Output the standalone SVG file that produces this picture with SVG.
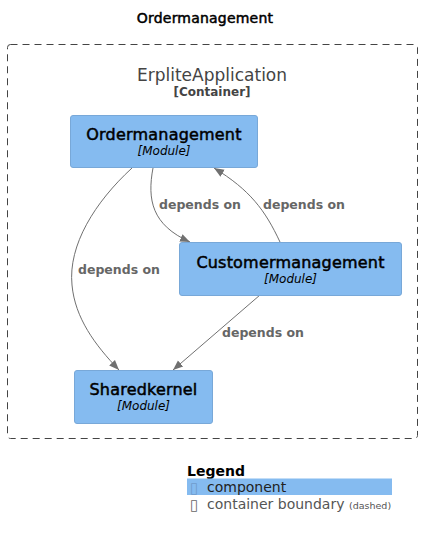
<svg xmlns="http://www.w3.org/2000/svg" width="422" height="537" viewBox="0 0 422 537">
<defs>
<style>
text{font-family:"DejaVu Sans","Liberation Sans",sans-serif}
.node rect{fill:#85BBF0;stroke:#78A8D8;stroke-width:1}
.nt{font-size:16px;fill:#000;stroke:#000;stroke-width:0.5px;letter-spacing:0.2px;text-anchor:middle}
.ns{font-size:12px;font-style:italic;fill:#000;text-anchor:middle}
.edge{fill:none;stroke:#707070;stroke-width:1}
.lbl{font-size:12.5px;font-weight:bold;fill:#666}
</style>
<marker id="arr" viewBox="0 0 10 10" refX="10" refY="5" markerWidth="10" markerHeight="10" markerUnits="userSpaceOnUse" orient="auto">
<path d="M0,1 L10,5 L0,9 z" fill="#707070"/>
</marker>
</defs>
<rect width="422" height="537" fill="#fff"/>
<text x="205" y="23" font-size="14" text-anchor="middle" fill="#000" stroke="#000" stroke-width="0.5" letter-spacing="0.2">Ordermanagement</text>
<g id="boundary">
<rect x="7.5" y="44.5" width="410" height="394" rx="3" fill="none" stroke="#444" stroke-width="1" stroke-dasharray="7,5"/>
<text x="212" y="81" font-size="17" text-anchor="middle" fill="#444">ErpliteApplication</text>
<text x="212" y="96" font-size="12" font-weight="bold" text-anchor="middle" fill="#444">[Container]</text>
</g>
<g id="connectors">
<path class="edge" d="M132,168 C95,202 68,245 72,285 C75,318 95,345 119,370" marker-end="url(#arr)"/>
<text class="lbl" x="78" y="274">depends on</text>
<path class="edge" d="M153,168 C147,200 152,225 190,242" marker-end="url(#arr)"/>
<text class="lbl" x="159" y="209">depends on</text>
<path class="edge" d="M280,242 C265,210 250,190 214,168" marker-end="url(#arr)"/>
<text class="lbl" x="263" y="209">depends on</text>
<path class="edge" d="M260,295 L173,370" marker-end="url(#arr)"/>
<text class="lbl" x="222" y="337">depends on</text>
</g>
<g id="ordermanagement" class="node">
<rect x="70.5" y="115.5" width="187" height="52" rx="2.5"/>
<text class="nt" x="164" y="140">Ordermanagement</text>
<text class="ns" x="164" y="155">[Module]</text>
</g>
<g id="customermanagement" class="node">
<rect x="179.5" y="242.5" width="222" height="53" rx="2.5"/>
<text class="nt" x="290.5" y="268">Customermanagement</text>
<text class="ns" x="290.5" y="283">[Module]</text>
</g>
<g id="sharedkernel" class="node">
<rect x="74.5" y="370.5" width="138" height="53" rx="2.5"/>
<text class="nt" x="143.5" y="395">Sharedkernel</text>
<text class="ns" x="143.5" y="410">[Module]</text>
</g>
<g id="legend">
<text x="187" y="476" font-size="14" font-weight="bold" fill="#000">Legend</text>
<rect x="187" y="478.5" width="205" height="16.5" fill="#85BBF0"/>
<text x="190" y="493" font-size="15" fill="#6f9ccc">▯</text>
<text x="207" y="492" font-size="14" fill="#222">component</text>
<text x="190" y="510" font-size="15" fill="#666">▯</text>
<text x="207" y="509" font-size="14" fill="#555">container boundary</text>
<text x="349" y="509" font-size="9.5" fill="#555">(dashed)</text>
</g>
</svg>
